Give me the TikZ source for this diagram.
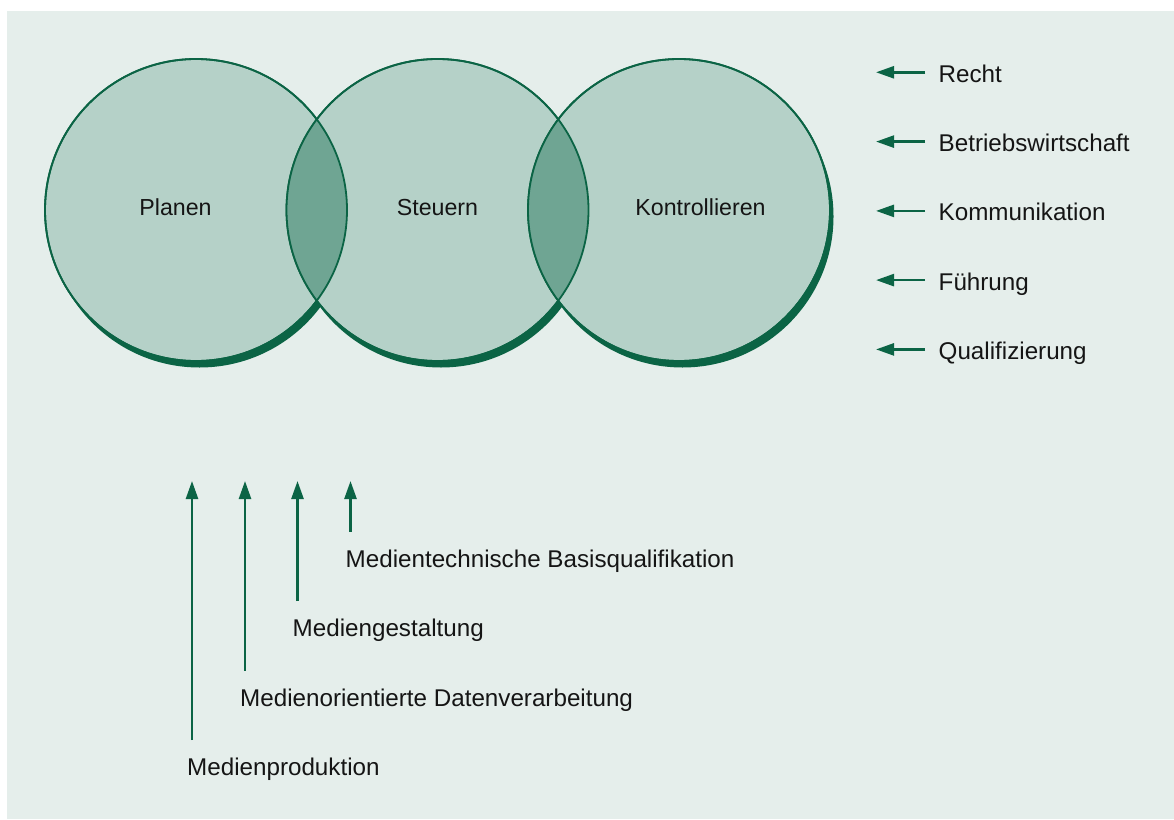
\documentclass[tikz,border=0pt]{standalone}
\usepackage{fontspec}
\setmainfont{Liberation Sans}
\usetikzlibrary{arrows.meta}

\definecolor{bg}{HTML}{E5EEEB}
\definecolor{ringfill}{HTML}{B5D1C8}
\definecolor{lensfill}{HTML}{6FA593}
\definecolor{dgreen}{HTML}{0B6445}
\definecolor{ink}{HTML}{151515}

\begin{document}
\begin{tikzpicture}[x=1pt,y=-1pt,
	font=\fontsize{24.2}{29}\selectfont, text=ink,
	ring/.style={shape=circle, minimum size=302pt, inner sep=0pt, fill=ringfill, draw=dgreen, line width=1.8pt},
	lbl/.style={inner sep=0pt, text height=19.8pt, text depth=0pt},
	cname/.style={inner sep=0pt, anchor=base, font=\fontsize{23.2}{28}\selectfont},
	arr/.style={draw=dgreen, line width=2.5pt, -{Triangle[length=18pt,width=12pt]}}]
	
	\useasboundingbox (0,0) rectangle (1174,819);
	\fill[bg] (7,11) rectangle (1174,819);
	
	% shadows
	\fill[dgreen] (199.5,216.5) circle (151pt);
	\fill[dgreen] (441,216.5) circle (151pt);
	\fill[dgreen] (682.5,216.5) circle (151pt);
	
	\node[ring] (planen) at (196,210) {};
	\node[ring] (steuern) at (437.5,210) {};
	\node[ring] (kontr) at (679,210) {};
	
	% overlaps
	\begin{scope}
		\clip (steuern.center) circle (151pt);
		\fill[lensfill] (planen.center) circle (151pt);
		\fill[lensfill] (kontr.center) circle (151pt);
	\end{scope}
	\draw[dgreen, line width=1.8pt] (planen.center) circle (151pt);
	\draw[dgreen, line width=1.8pt] (steuern.center) circle (151pt);
	\draw[dgreen, line width=1.8pt] (kontr.center) circle (151pt);
	
	\node[cname] at ([xshift=-20.5pt,yshift=-5pt]planen.center) {Planen};
	\node[cname] at ([yshift=-5pt]steuern.center) {Steuern};
	\node[cname] at ([xshift=21.5pt,yshift=-5pt]kontr.center) {Kontrollieren};
	
	% right column
	\node[lbl, anchor=west] (recht) at (938.5,72.3) {Recht};
	\node[lbl, anchor=west] (bwl) at (938.5,141.6) {Betriebswirtschaft};
	\node[lbl, anchor=west] (komm) at (938.5,210.9) {Kommunikation};
	\node[lbl, anchor=west] (fuehr) at (938.5,280.1) {Führung};
	\node[lbl, anchor=west] (quali) at (938.5,349.4) {Qualifizierung};
	
	\draw[arr] ([xshift=-13.5pt]recht.west) -- ++(-49,0);
	\draw[arr] ([xshift=-13.5pt]bwl.west) -- ++(-49,0);
	\draw[arr] ([xshift=-13.5pt]komm.west) -- ++(-49,0);
	\draw[arr] ([xshift=-13.5pt]fuehr.west) -- ++(-49,0);
	\draw[arr] ([xshift=-13.5pt]quali.west) -- ++(-49,0);
	
	% bottom labels
	\coordinate (tips) at (0,481);
	\node[inner sep=0pt, anchor=base west] (basis) at (345.5,567) {Medientechnische Basisqualifikation};
	\node[inner sep=0pt, anchor=base west] (gestalt) at (292.5,636.5) {Mediengestaltung};
	\node[inner sep=0pt, anchor=base west] (daten) at (240,706) {Medienorientierte Datenverarbeitung};
	\node[inner sep=0pt, anchor=base west] (prod) at (187,775.5) {Medienproduktion};
	
	\draw[arr] ([shift={(5,-35.5)}]basis.base west) coordinate (b4) -- (b4 |- tips);
	\draw[arr] ([shift={(5,-35.5)}]gestalt.base west) coordinate (b3) -- (b3 |- tips);
	\draw[arr] ([shift={(5,-35.5)}]daten.base west) coordinate (b2) -- (b2 |- tips);
	\draw[arr] ([shift={(5,-35.5)}]prod.base west) coordinate (b1) -- (b1 |- tips);
	
\end{tikzpicture}
\end{document}
